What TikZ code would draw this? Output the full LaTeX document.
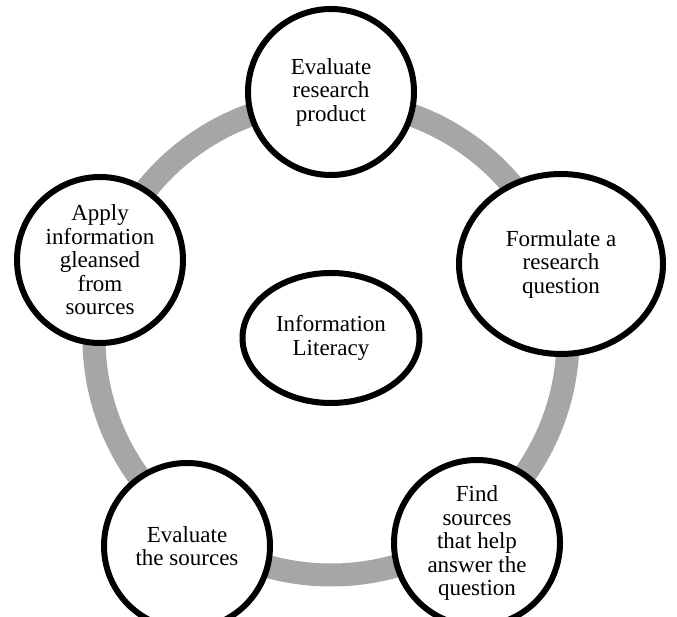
\documentclass[tikz,border=0pt]{standalone}
\usepackage{fontspec}
\setmainfont{Liberation Serif}
\usepackage{tikz}
\usetikzlibrary{
    shapes.geometric,
    shadows
}
\definecolor{ringgray}{RGB}{166,166,166}

\tikzset{
    stage/.style={circle, draw=black, line width=6pt, fill=white,
        minimum size=166pt, inner sep=2pt, align=center,
        font=\fontsize{23}{23.5}\selectfont,
        drop shadow={opacity=.2, shadow xshift=0pt, shadow yshift=-3pt}}
}

\begin{document}
\begin{tikzpicture}[x=1pt, y=1pt]
    \useasboundingbox (0,0) rectangle (677,617);
    \clip (0,0) rectangle (677,617);

    % the ring behind the stages
    \coordinate (hub) at (331,279);
    \draw[ringgray, line width=23pt] (hub) circle [radius=237pt];

    \node[stage] (product) at (331,525) {Evaluate\\research\\product};
    \node[stage, ellipse, minimum width=204pt, minimum height=180pt] (question) at (561,353) {Formulate a\\research\\question};
    \node[stage] (find) at (477,74) {Find\\sources\\that help\\answer the\\question};
    \node[stage] (sources) at (187,71) {Evaluate\\the sources};
    \node[stage] (apply) at (100,357) {Apply\\information\\gleansed\\from\\sources};

    \node[stage, ellipse, minimum width=177pt, minimum height=130pt] (literacy) at (hub) {Information\\Literacy};
\end{tikzpicture}
\end{document}
